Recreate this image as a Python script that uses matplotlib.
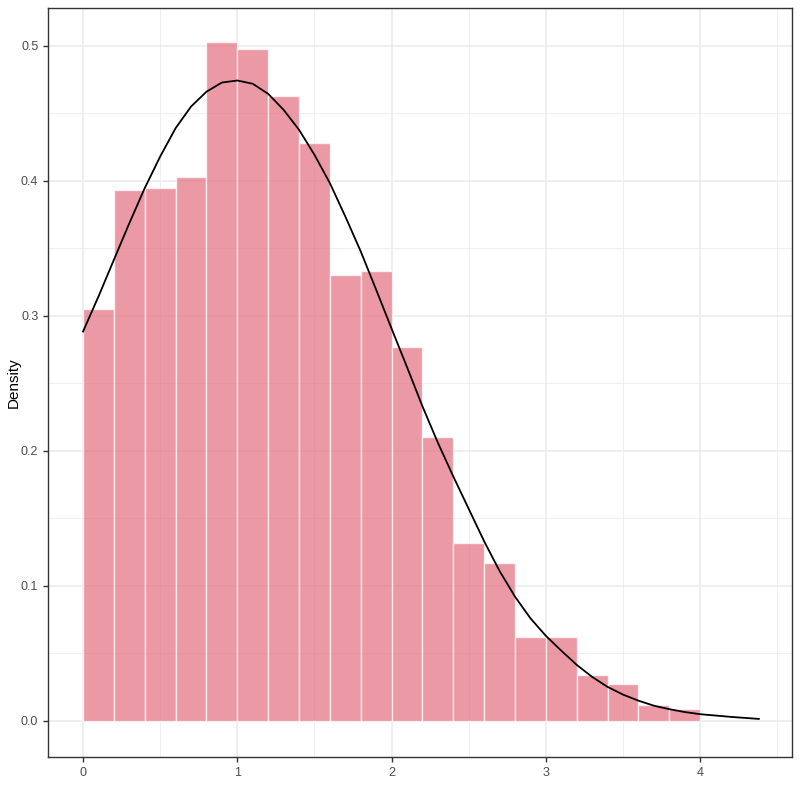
import matplotlib
matplotlib.use("Agg")
import matplotlib.pyplot as plt
import numpy as np

plt.rcParams['font.family'] = ['Liberation Sans', 'DejaVu Sans']

# Histogram bins (left edges) and densities
bin_left = [0.0, 0.2, 0.4, 0.6, 0.8, 1.0, 1.2, 1.4, 1.6, 1.8,
            2.0, 2.2, 2.4, 2.6, 2.8, 3.0, 3.2, 3.4, 3.6, 3.8]
bin_width = 0.2
density = [0.305, 0.393, 0.395, 0.403, 0.503, 0.498, 0.463, 0.428, 0.330, 0.333,
           0.277, 0.210, 0.132, 0.117, 0.062, 0.062, 0.034, 0.027, 0.012, 0.009]

# Density curve points
curve_x = [0.0, 0.1, 0.2, 0.3, 0.4, 0.5, 0.6, 0.7, 0.8, 0.9,
           1.0, 1.1, 1.2, 1.3, 1.4, 1.5, 1.6, 1.7, 1.8, 1.9,
           2.0, 2.1, 2.2, 2.3, 2.4, 2.5, 2.6, 2.7, 2.8, 2.9,
           3.0, 3.1, 3.2, 3.3, 3.4, 3.5, 3.6, 3.7, 3.8, 3.9,
           4.0, 4.2, 4.38]
curve_y = [0.2884, 0.3143, 0.3415, 0.3686, 0.3946, 0.4180, 0.4390, 0.4550, 0.4660, 0.4728,
           0.4743, 0.4719, 0.4644, 0.4526, 0.4378, 0.4193, 0.3983, 0.3736, 0.3477, 0.3193,
           0.2905, 0.2620, 0.2330, 0.2060, 0.1810, 0.1570, 0.1330, 0.1110, 0.0920, 0.0760,
           0.0630, 0.0520, 0.0415, 0.0326, 0.0252, 0.0195, 0.0150, 0.0113, 0.0087, 0.0066,
           0.0050, 0.0030, 0.0015]

x_ticks = [0, 1, 2, 3, 4]
y_ticks = [0.0, 0.1, 0.2, 0.3, 0.4, 0.5]

fig = plt.figure(figsize=(8, 8), dpi=100)
ax = fig.add_axes([0.06, 0.05375, 0.93, 0.93625])

# Grid
for v in np.arange(-0.5, 5.0, 0.5):
    ax.axvline(v, color='#EBEBEB', lw=0.55 if v % 1 else 1.1, zorder=0)
for v in np.arange(0.0, 0.55, 0.05):
    ax.axhline(v, color='#EBEBEB', lw=1.1 if abs(round(v * 10) - v * 10) < 1e-6 else 0.55, zorder=0)

ax.bar(bin_left, density, width=bin_width, align='edge', color='#E46E80', alpha=0.7,
       edgecolor='white', linewidth=1.0, zorder=2)
ax.plot(curve_x, curve_y, color='black', lw=1.3, zorder=3, solid_joinstyle='round')

ax.set_xlim(-0.227, 4.595)
ax.set_ylim(-0.0267, 0.528)
ax.set_xticks(x_ticks)
ax.set_xticklabels([str(t) for t in x_ticks])
ax.set_yticks(y_ticks)
ax.set_yticklabels([f"{t:.1f}" for t in y_ticks])
ax.tick_params(axis='both', colors='#333333', labelcolor='#4D4D4D', labelsize=9,
               length=3.5, width=1.0, direction='out')
for s in ax.spines.values():
    s.set_color('#333333')
    s.set_linewidth(1.0)
ax.set_ylabel('Density', fontsize=11, color='black', labelpad=0)
ax.grid(False)

fig.savefig('out.png', dpi=100)
